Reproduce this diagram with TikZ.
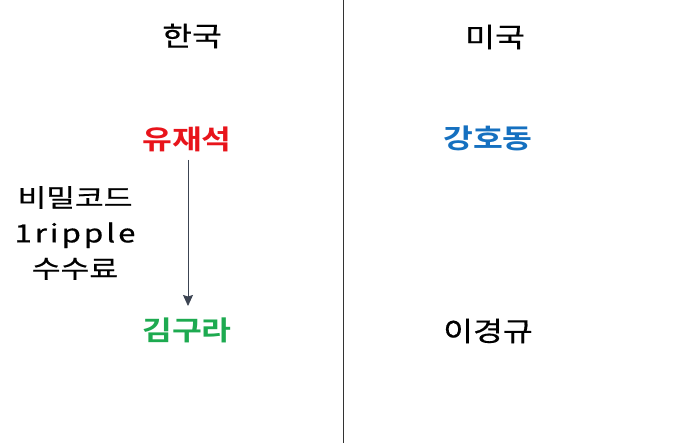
\documentclass[tikz,border=0pt]{standalone}
\usepackage{fontspec}
\usetikzlibrary{arrows.meta}
\setmainfont{Noto Sans CJK KR}
\newfontfamily\krwide{Noto Sans CJK KR}[FakeStretch=1.2, FakeBold=0.6]
\newfontfamily\krwidebold{Noto Sans CJK KR Bold}[FakeStretch=1.2]
\newfontfamily\krside{Noto Sans CJK KR}[FakeStretch=1.25, FakeBold=0.6]
\definecolor{cred}{HTML}{E8141B}
\definecolor{cblue}{HTML}{1570C0}
\definecolor{cgreen}{HTML}{1DAA50}
\definecolor{carrow}{HTML}{3C4452}
\tikzset{
  lbl/.style={inner sep=0pt, font=\krwide\fontsize{27}{30}\selectfont},
  person/.style={inner sep=0pt, font=\krwidebold\fontsize{27}{30}\selectfont},
  side/.style={inner sep=0pt, align=center, font=\krside\fontsize{25}{35.5}\selectfont},
}
\begin{document}
\begin{tikzpicture}[x=1pt,y=-1pt]
\fill[white] (0,0) rectangle (692,443);
\useasboundingbox (0,0) rectangle (692,443);
\coordinate (lt) at (343.5,0);
\coordinate (lb) at (343.5,443);
\draw[line width=1pt, black!80] (lt) -- (lb);
\node[lbl] (kr) at (192,36) {한국};
\node[lbl] (us) at (495,37) {미국};
\node[person, text=cred] (a) at (187,139) {유재석};
\node[person, text=cblue] (b) at (488,138) {강호동};
\node[person, text=cgreen] (c) at (187,330) {김구라};
\node[lbl] (d) at (488,331) {이경규};
\node[side] (s) at (75,233) {비밀코드\\{\addfontfeature{LetterSpace=12}1ripple}\\수수료};
\coordinate (as) at (188,160);
\coordinate (ae) at (188,306);
\draw[carrow, line width=0.9pt, -{Stealth[length=11pt,width=10pt,inset=1.5pt]}] (as) -- (ae);
\end{tikzpicture}
\end{document}
